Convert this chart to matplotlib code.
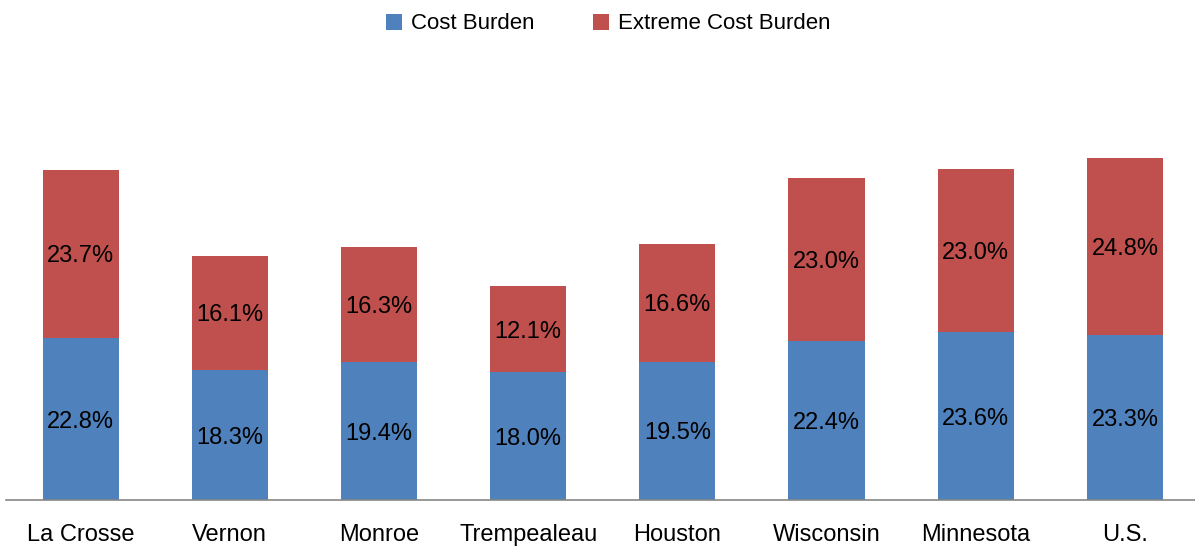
import matplotlib
matplotlib.use('Agg')
import matplotlib.pyplot as plt
import numpy as np

plt.rcParams['font.family'] = ['Liberation Sans', 'DejaVu Sans']

places = ['La Crosse', 'Vernon', 'Monroe', 'Trempealeau', 'Houston',
          'Wisconsin', 'Minnesota', 'U.S.']
cost_burden = [22.8, 18.3, 19.4, 18.0, 19.5, 22.4, 23.6, 23.3]
extreme_burden = [23.7, 16.1, 16.3, 12.1, 16.6, 23.0, 23.0, 24.8]

blue = '#4F81BD'
red = '#C0504D'

fig = plt.figure(figsize=(11.95, 5.48), dpi=100)
ax = fig.add_axes([0.005, 0.0876, 0.995, 0.7774])

x = np.arange(len(places))
b1 = ax.bar(x, cost_burden, width=0.51, color=blue, label='Cost Burden')
b2 = ax.bar(x, extreme_burden, width=0.51, bottom=cost_burden, color=red,
            label='Extreme Cost Burden')

for i in range(len(places)):
    ax.text(x[i], cost_burden[i] / 2, '%.1f%%' % cost_burden[i],
            ha='center', va='center_baseline', fontsize=17, color='black')
    ax.text(x[i], cost_burden[i] + extreme_burden[i] / 2,
            '%.1f%%' % extreme_burden[i],
            ha='center', va='center_baseline', fontsize=17, color='black')

ax.set_xlim(-0.5, 7.47)
ax.set_ylim(0, 60)
ax.set_xticks(x)
ax.set_xticklabels(places, fontsize=17)
ax.tick_params(axis='x', length=0, pad=17)
ax.set_yticks([])
for s in ['left', 'right', 'top']:
    ax.spines[s].set_visible(False)
ax.spines['bottom'].set_color('#868686')
ax.spines['bottom'].set_linewidth(1.2)

fig.legend(handles=[b1, b2], loc='upper center', bbox_to_anchor=(0.509, 1.012),
           ncol=2, frameon=False, fontsize=16, handlelength=0.75,
           handleheight=0.75, handletextpad=0.4, columnspacing=2.6)

fig.savefig('out.png', dpi=100)
